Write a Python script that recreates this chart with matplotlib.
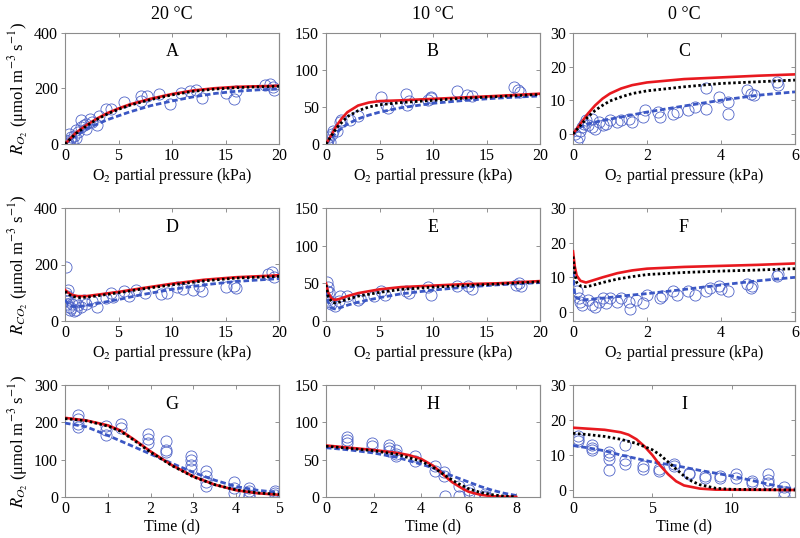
import numpy as np
import matplotlib
matplotlib.use("Agg")
import matplotlib.pyplot as plt

plt.rcParams['font.family'] = ['Liberation Serif', 'DejaVu Serif']
plt.rcParams['mathtext.fontset'] = 'stix'

# ---------------- Panel A (R_O2 vs O2, 20 C) ----------------
A_red_x = [0, 0.5, 1, 2, 3, 4, 5, 6, 8, 10, 12, 14, 16, 18, 20]
A_red_y = [0, 20, 40, 68, 92, 112, 128, 142, 163, 180, 193, 201, 206, 208, 210]
A_blk_x = [0, 0.5, 1, 2, 3, 4, 5, 6, 8, 10, 12, 14, 16, 18, 20]
A_blk_y = [0, 18, 37, 65, 89, 109, 125, 139, 160, 177, 190, 198, 203, 206, 208]
A_blu_x = [0, 1, 2, 4, 6, 8, 10, 12, 14, 16, 18, 20]
A_blu_y = [0, 30, 55, 88, 115, 138, 155, 170, 182, 190, 195, 198]
A_obs_x = [0.1, 0.2, 0.3, 0.5, 0.6, 0.8, 1.0, 1.2, 0.7, 0.4, 1.0, 1.5, 2.0, 2.5, 1.8, 3.0,
           1.5, 2.3, 2.0, 3.2, 3.8, 4.3, 5.5, 7.1, 7.7, 8.8, 7.1, 9.8, 11.7, 12.2, 10.8,
           12.8, 15.0, 15.8, 16.0, 18.7, 19.2, 19.4, 19.5]
A_obs_y = [5, 10, 2, 15, 25, 30, 20, 45, 8, 35, 50, 60, 55, 80, 70, 70,
           85, 91, 73, 102, 126, 126, 150, 173, 173, 179, 155, 143, 190, 196, 185,
           167, 185, 161, 190, 214, 215, 205, 195]

# ---------------- Panel B (R_O2 vs O2, 10 C) ----------------
B_red_x = [0, 0.5, 1, 1.5, 2, 3, 4, 5, 7, 10, 13, 16, 20]
B_red_y = [0, 12, 25, 35, 43, 52, 56, 58, 59, 61, 63, 65, 68]
B_blk_x = [0, 0.5, 1, 2, 3, 4, 5, 7, 10, 13, 16, 20]
B_blk_y = [0, 11, 22, 37, 45, 50, 53, 56, 59, 62, 64, 67]
B_blu_x = [0, 0.5, 1, 2, 3, 4, 5, 7, 10, 13, 16, 20]
B_blu_y = [0, 8, 16, 27, 34, 39, 43, 49, 55, 59, 62, 65]
B_obs_x = [0.1, 0.2, 0.3, 0.1, 0.4, 0.6, 0.7, 1.0, 1.3, 1.4, 2.2, 3.0, 5.1, 5.6, 5.8,
           7.5, 7.8, 7.6, 9.5, 9.8, 12.2, 13.2, 13.6, 17.6, 17.9, 18.1, 9.8]
B_obs_y = [2, 5, 10, 0, 3, 13, 17, 18, 30, 33, 33, 38, 63, 53, 48,
           67, 58, 53, 60, 64, 71, 66, 65, 77, 73, 70, 62]

# ---------------- Panel C (R_O2 vs O2, 0 C) ----------------
C_red_x = [0, 0.2, 0.4, 0.6, 0.8, 1.0, 1.3, 1.6, 2, 3, 4, 5, 6]
C_red_y = [0, 3, 6, 8.5, 10.5, 12, 13.5, 14.5, 15.3, 16.3, 16.8, 17.3, 17.7]
C_blk_x = [0, 0.2, 0.4, 0.6, 0.8, 1.0, 1.3, 1.6, 2, 3, 4, 5, 6]
C_blk_y = [0, 2.5, 5, 7, 8.5, 9.8, 11, 12, 12.8, 14, 15, 15.5, 16]
C_blu_x = [0, 0.2, 0.4, 0.8, 1.2, 2, 3, 4, 5, 6]
C_blu_y = [0, 2, 3, 4, 4.8, 6.5, 8.3, 10, 11.5, 12.5]
C_obs_x = [0.1, 0.15, 0.2, 0.25, 0.3, 0.35, 0.5, 0.5, 0.6, 0.7, 0.8, 0.9, 1.0, 1.2, 1.3,
           1.5, 1.6, 1.9, 1.95, 2.3, 2.35, 2.7, 2.8, 3.1, 3.3, 3.6, 3.6, 3.95, 4.2, 4.2,
           4.7, 4.8, 4.9, 5.5, 5.55, 0.05, 0.4]
C_obs_y = [-2, -1, 1, 2, 3, 4, 4.5, 2, 1.5, 3.5, 2.5, 3, 4, 3.5, 4,
           4.5, 3.5, 5, 7, 6.5, 5, 6, 6.5, 7, 8, 7.5, 13.5, 11, 9.5, 6,
           13, 12, 11.5, 15.5, 14.5, 0, 2.5]

# ---------------- Panel D (R_CO2 vs O2, 20 C) ----------------
D_red_x = [0, 0.3, 0.7, 1.2, 2, 3, 5, 7, 10, 13, 16, 19, 20]
D_red_y = [110, 100, 92, 88, 88, 93, 103, 115, 132, 146, 155, 160, 162]
D_blk_x = [0, 0.3, 0.7, 1.2, 2, 3, 5, 7, 10, 13, 16, 20]
D_blk_y = [105, 95, 87, 83, 84, 89, 100, 112, 128, 142, 152, 158]
D_blu_x = [0, 0.3, 0.7, 1.2, 2, 3, 5, 7, 10, 13, 16, 20]
D_blu_y = [75, 60, 52, 50, 55, 62, 76, 92, 112, 128, 140, 150]
D_obs_x = [0.1, 0.1, 0.2, 0.1, 0.3, 0.2, 0.4, 0.5, 0.6, 0.8, 1.0, 0.7, 0.3, 1.2, 1.5,
           2.0, 2.5, 3.0, 3.8, 4.3, 4.5, 5.5, 6.0, 6.6, 7.5, 9.0, 9.5, 10.5, 11.0, 12.0,
           12.5, 12.8, 15.0, 15.8, 16.0, 19.0, 19.3, 19.5, 1.8, 0.9]
D_obs_y = [190, 100, 90, 80, 70, 60, 50, 40, 45, 35, 40, 60, 110, 55, 50,
           60, 70, 50, 80, 100, 85, 105, 90, 110, 100, 95, 100, 120, 115, 110,
           125, 105, 120, 125, 118, 165, 175, 155, 75, 70]

# ---------------- Panel E (R_CO2 vs O2, 10 C) ----------------
E_red_x = [0, 0.2, 0.5, 0.8, 1.2, 2, 3, 5, 7, 10, 13, 16, 20]
E_red_y = [50, 38, 30, 28, 29, 33, 37, 42, 45, 47, 49, 50, 53]
E_blk_x = [0, 0.2, 0.5, 0.8, 1.2, 2, 3, 5, 7, 10, 13, 16, 20]
E_blk_y = [48, 33, 26, 24, 25, 29, 33, 38, 42, 45, 47, 49, 52]
E_blu_x = [0, 0.2, 0.5, 0.8, 1.2, 2, 3, 5, 7, 10, 13, 16, 20]
E_blu_y = [40, 25, 18, 16, 17, 21, 25, 31, 36, 41, 45, 48, 51]
E_obs_x = [0.1, 0.2, 0.1, 0.3, 0.2, 0.4, 0.5, 0.8, 1.2, 1.3, 2.0, 3.0, 3.2, 4.5, 5.1,
           5.5, 7.5, 7.8, 9.5, 9.8, 12.2, 13.3, 13.6, 17.8, 18.0, 18.2]
E_obs_y = [52, 45, 40, 38, 28, 25, 22, 20, 27, 33, 33, 28, 30, 33, 40,
           35, 40, 37, 45, 35, 47, 46, 43, 48, 51, 46]

# ---------------- Panel F (R_CO2 vs O2, 0 C) ----------------
F_red_x = [0, 0.05, 0.1, 0.2, 0.35, 0.5, 0.8, 1.2, 1.6, 2, 3, 4, 5, 6]
F_red_y = [17.5, 13, 10.5, 9, 8.5, 9, 10, 11.2, 12, 12.5, 13, 13.3, 13.6, 14]
F_blk_x = [0, 0.05, 0.1, 0.2, 0.35, 0.5, 0.8, 1.2, 1.6, 2, 3, 4, 5, 6]
F_blk_y = [16, 11, 8.5, 7.5, 7.3, 7.6, 8.5, 9.5, 10.2, 10.8, 11.4, 11.8, 12.1, 12.5]
F_blu_x = [0, 0.02, 0.05, 0.1, 0.3, 0.6, 1, 1.5, 2, 3, 4, 5, 6]
F_blu_y = [14, 8, 5, 4, 3.5, 3.8, 4.2, 4.8, 5.3, 6.5, 7.8, 9, 10]
F_obs_x = [0.1, 0.15, 0.2, 0.25, 0.4, 0.5, 0.6, 0.7, 0.8, 0.9, 1.0, 1.2, 1.3, 1.5, 1.55,
           1.7, 1.9, 2.0, 2.35, 2.4, 2.7, 2.8, 3.1, 3.3, 3.6, 3.7, 3.95, 4.0, 4.2, 4.7,
           4.8, 4.85, 5.5, 5.55]
F_obs_y = [6, 4, 3, 2, 3.5, 2, 1.5, 3, 4, 2.5, 4, 3, 4, 3, 1,
           3.5, 2.5, 5, 4, 4.5, 6, 5, 6, 5, 6, 7, 7.5, 6.5, 6, 8,
           7, 7.5, 10.5, 11]

# ---------------- Panel G (R_O2 vs time, 20 C) ----------------
G_red_x = [0, 0.5, 1, 1.3, 1.6, 2, 2.5, 3, 3.5, 4, 4.5, 5]
G_red_y = [212, 205, 192, 178, 155, 122, 85, 55, 33, 18, 10, 6]
G_blk_x = [0, 0.5, 1, 1.3, 1.6, 2, 2.5, 3, 3.5, 4, 4.5, 5]
G_blk_y = [210, 204, 190, 176, 153, 120, 84, 54, 33, 19, 11, 7]
G_blu_x = [0, 0.5, 1, 1.5, 2, 2.5, 3, 3.5, 4, 4.5, 5]
G_blu_y = [198, 188, 165, 140, 115, 90, 66, 45, 28, 18, 12]
G_obs_x = [0.3, 0.3, 0.3, 0.3, 0.95, 0.95, 0.95, 1.3, 1.3, 1.95, 1.95, 1.95, 2.35, 2.35,
           2.35, 2.95, 2.95, 2.95, 2.95, 3.3, 3.3, 3.3, 3.3, 3.95, 3.95, 3.95, 4.3, 4.3,
           4.3, 4.3, 4.9, 4.9, 4.9]
G_obs_y = [220, 210, 195, 188, 190, 180, 165, 195, 185, 170, 155, 145, 150, 125,
           120, 110, 100, 85, 75, 70, 55, 40, 30, 40, 25, 10, 25, 15,
           5, 0, 15, 5, 10]

# ---------------- Panel H (R_O2 vs time, 10 C) ----------------
H_red_x = [0, 1, 2, 3, 3.5, 4, 4.5, 4.8, 5, 5.3, 5.7, 6, 6.5, 7, 8]
H_red_y = [69, 66, 63, 59, 56, 51, 42, 34, 28, 20, 12, 7, 3, 1, 0]
H_blk_x = [0, 1, 2, 3, 4, 4.5, 5, 5.5, 6, 6.5, 7, 7.5, 8]
H_blk_y = [68, 65, 62, 57, 48, 40, 29, 19, 11, 6, 3, 1, 0.5]
H_blu_x = [0, 1, 2, 3, 4, 4.5, 5, 5.5, 6, 6.5, 7, 7.5, 8]
H_blu_y = [66, 63, 59, 53, 44, 39, 32, 26, 20, 14, 9, 5, 2]
H_obs_x = [0.9, 0.9, 0.9, 1.95, 1.95, 2.65, 2.65, 2.65, 2.95, 2.95, 2.95, 3.75, 3.75,
           4.6, 4.6, 4.95, 4.95, 5.0, 5.6, 5.6, 6.0, 6.0, 6.7, 6.7, 6.7]
H_obs_y = [80, 77, 72, 72, 68, 70, 66, 62, 63, 58, 55, 55, 48,
           42, 35, 34, 28, 2, 15, 2, 10, 5, 2, 0, 4]

# ---------------- Panel I (R_O2 vs time, 0 C) ----------------
I_red_x = [0, 1, 2, 3, 3.5, 4, 4.5, 5, 5.5, 6, 6.5, 7, 8, 9, 14]
I_red_y = [17.8, 17.5, 17.2, 16.5, 15.8, 14.5, 12.5, 10, 7, 4.5, 2.5, 1.3, 0.4, 0.1, 0]
I_blk_x = [0, 1, 2, 3, 4, 5, 5.5, 6, 6.5, 7, 7.5, 8, 9, 10, 14]
I_blk_y = [16.2, 15.8, 15.3, 14.5, 13.3, 11.5, 10, 8, 6, 4, 2.5, 1.5, 0.5, 0.2, 0]
I_blu_x = [0, 1, 2, 3, 4, 5, 6, 7, 8, 9, 10, 11, 12, 13, 14]
I_blu_y = [12.7, 12, 11.2, 10, 9, 8, 7.3, 6.5, 5.6, 4.8, 4, 3, 2, 1, 0.3]
I_obs_x = [0.3, 0.3, 0.3, 1.2, 1.2, 1.2, 2.3, 2.3, 2.3, 2.3, 3.3, 3.3, 3.3, 4.4, 4.4,
           5.4, 5.4, 6.4, 6.4, 7.3, 7.3, 8.3, 8.3, 9.3, 9.3, 10.3, 10.3, 11.3, 11.3,
           12.3, 12.3, 12.3, 13.3, 13.3, 13.3]
I_obs_y = [15.5, 14.5, 14, 13, 12, 11.5, 11, 10, 9, 5.8, 13, 8.5, 7.5, 7, 6,
           6, 5.5, 7.5, 6.8, 5, 4.5, 4, 3.5, 4, 3.5, 4.5, 3.5, 2.5, 2,
           4.5, 3, 2, 1, -0.5, -1.8]

col_titles = ['20 °C', '10 °C', '0 °C']
panel_letters = ['A', 'B', 'C', 'D', 'E', 'F', 'G', 'H', 'I']
xlabel_o2 = 'O$_2$ partial pressure (kPa)'
xlabel_t = 'Time (d)'
ylabel_o2 = r'$R_{O_2}$ (μmol m$^{-3}$ s$^{-1}$)'
ylabel_co2 = r'$R_{CO_2}$ (μmol m$^{-3}$ s$^{-1}$)'

panels = [
    (A_red_x, A_red_y, A_blk_x, A_blk_y, A_blu_x, A_blu_y, A_obs_x, A_obs_y, (0, 20), (0, 400), [0, 5, 10, 15, 20], [0, 200, 400]),
    (B_red_x, B_red_y, B_blk_x, B_blk_y, B_blu_x, B_blu_y, B_obs_x, B_obs_y, (0, 20), (0, 150), [0, 5, 10, 15, 20], [0, 50, 100, 150]),
    (C_red_x, C_red_y, C_blk_x, C_blk_y, C_blu_x, C_blu_y, C_obs_x, C_obs_y, (0, 6), (-3, 30), [0, 2, 4, 6], [0, 10, 20, 30]),
    (D_red_x, D_red_y, D_blk_x, D_blk_y, D_blu_x, D_blu_y, D_obs_x, D_obs_y, (0, 20), (0, 400), [0, 5, 10, 15, 20], [0, 200, 400]),
    (E_red_x, E_red_y, E_blk_x, E_blk_y, E_blu_x, E_blu_y, E_obs_x, E_obs_y, (0, 20), (0, 150), [0, 5, 10, 15, 20], [0, 50, 100, 150]),
    (F_red_x, F_red_y, F_blk_x, F_blk_y, F_blu_x, F_blu_y, F_obs_x, F_obs_y, (0, 6), (-2.6, 30), [0, 2, 4, 6], [0, 10, 20, 30]),
    (G_red_x, G_red_y, G_blk_x, G_blk_y, G_blu_x, G_blu_y, G_obs_x, G_obs_y, (0, 5), (0, 300), [0, 1, 2, 3, 4, 5], [0, 100, 200, 300]),
    (H_red_x, H_red_y, H_blk_x, H_blk_y, H_blu_x, H_blu_y, H_obs_x, H_obs_y, (0, 9), (0, 150), [0, 2, 4, 6, 8], [0, 50, 100, 150]),
    (I_red_x, I_red_y, I_blk_x, I_blk_y, I_blu_x, I_blu_y, I_obs_x, I_obs_y, (0, 14), (-2, 30), [0, 5, 10], [0, 10, 20, 30]),
]

W, H = 800, 538
fig = plt.figure(figsize=(8, 5.38), dpi=100)
lefts = [65, 326, 573]
rights = [279, 540, 795]
tops = [33, 208, 385]
bottoms = [144, 321, 497]

circ_col = '#5064c8'
blue_line = '#3b57c4'
spine_col = '#8c8c8c'

for i, p in enumerate(panels):
    r, c = divmod(i, 3)
    (rx, ry, kx, ky, bx, by, ox, oy, xl, yl, xt, yt) = p
    ax = fig.add_axes([lefts[c] / W, 1 - bottoms[r] / H,
                       (rights[c] - lefts[c]) / W, (bottoms[r] - tops[r]) / H])
    ax.plot(ox, oy, 'o', mfc='none', mec=circ_col, ms=8, mew=0.6, zorder=2)
    ax.plot(bx, by, color=blue_line, lw=2.0, ls=(0, (2.0, 1.0)), zorder=3)
    ax.plot(rx, ry, color='#e8191f', lw=1.9, zorder=4)
    ax.plot(kx, ky, color='black', lw=2.0, ls=(0, (0.9, 0.9)), zorder=5)
    ax.set_xlim(*xl)
    ax.set_ylim(*yl)
    ax.set_xticks(xt)
    ax.set_yticks(yt)
    ax.tick_params(axis='x', direction='in', length=3, width=0.6, color='#808080',
                   labelsize=11.5, top=True, pad=3)
    ax.tick_params(axis='y', direction='out', length=3, width=0.6, color='#808080',
                   labelsize=11.5, left=True, right=False, pad=2)
    sec = ax.secondary_yaxis('right')
    sec.set_yticks(yt)
    sec.tick_params(direction='in', length=3, width=0.6, color='#808080',
                    labelright=False)
    for s in sec.spines.values():
        s.set_color(spine_col)
        s.set_linewidth(0.8)
    for s in ax.spines.values():
        s.set_color(spine_col)
        s.set_linewidth(0.8)
    ax.text(0.5, 0.83, panel_letters[i], transform=ax.transAxes,
            ha='center', va='center', fontsize=13)
    ax.set_xlabel(xlabel_t if r == 2 else xlabel_o2, fontsize=11.5, labelpad=1)
    if c == 0:
        ax.set_ylabel(ylabel_co2 if r == 1 else ylabel_o2, fontsize=12, labelpad=2)
    if r == 0:
        ax.set_title(col_titles[c], fontsize=13, pad=10)

fig.savefig('out.png', dpi=100)
